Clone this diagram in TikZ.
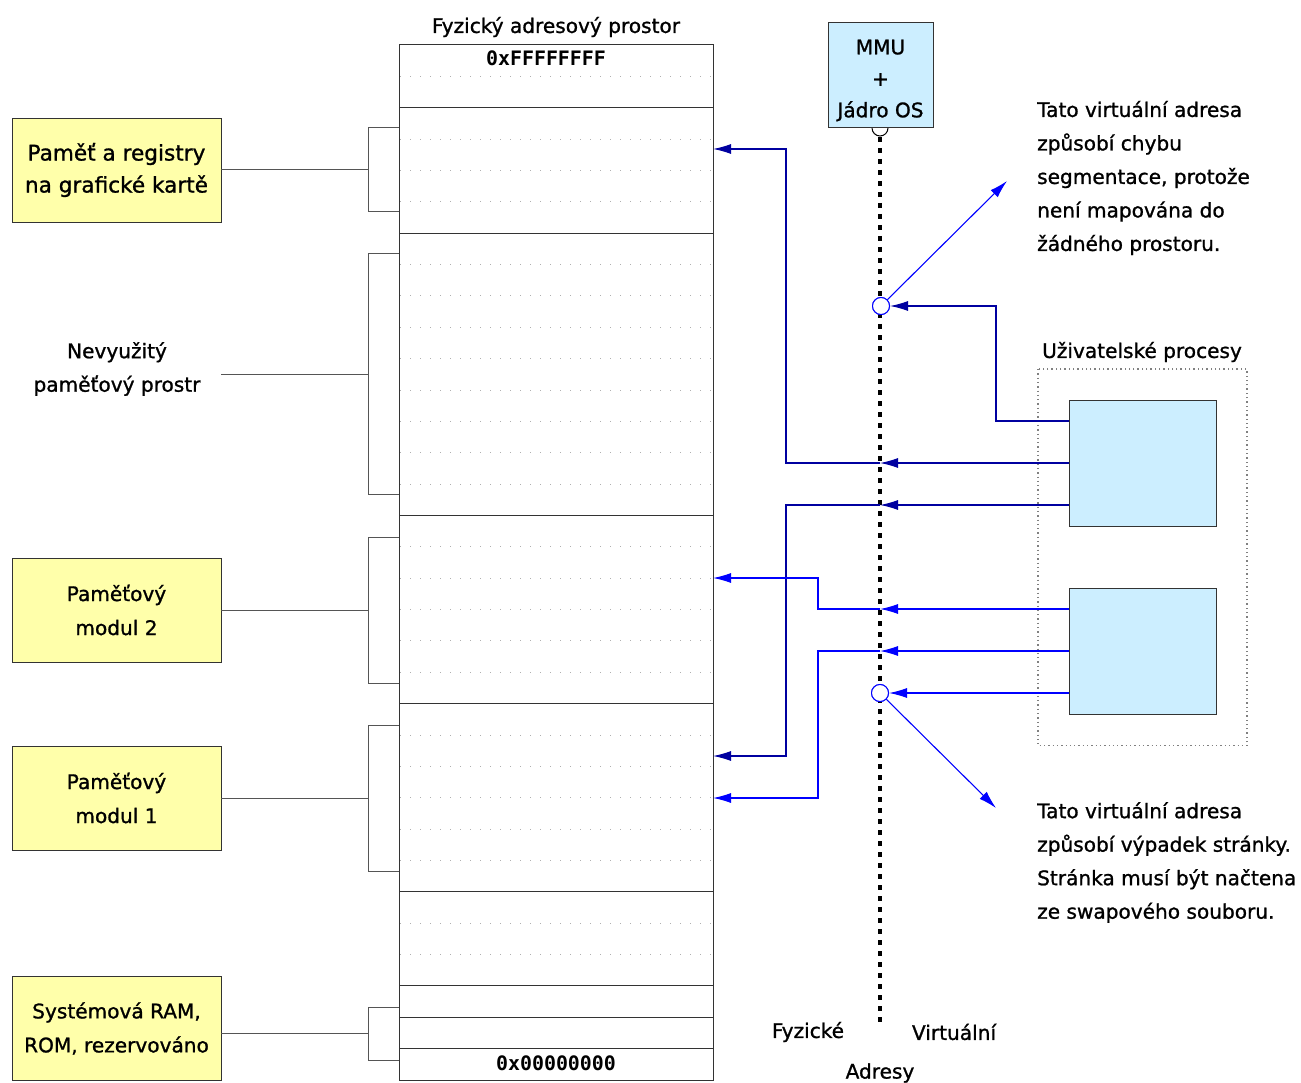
\documentclass[tikz,border=0pt]{standalone}
\usepackage{fontspec}
\setmainfont{DejaVu Sans}[FakeBold=1.1]
\setmonofont{DejaVu Sans Mono}
\usetikzlibrary{arrows.meta,calc}
\definecolor{ylw}{HTML}{FFFFAA}
\definecolor{lblue}{HTML}{CCEEFF}
\definecolor{navyb}{HTML}{0000A0}
\definecolor{brb}{HTML}{0000FF}
\definecolor{memline}{HTML}{333333}
\definecolor{brk}{HTML}{555555}
\definecolor{gridc}{HTML}{B0B0B0}
\begin{document}
\begin{tikzpicture}[x=1pt,y=-1pt,
  txt/.style={font=\fontsize{20.1}{33.5}\selectfont, inner sep=0pt},
  ybox/.style={draw=memline, fill=ylw, minimum width=209pt, minimum height=104pt,
    align=center, font=\fontsize{20.1}{34}\selectfont, inner sep=0pt},
  pbox/.style={draw=memline, fill=lblue, minimum width=146.7pt, minimum height=125.6pt, inner sep=0pt},
  hexlbl/.style={font=\ttfamily\bfseries\fontsize{19.9}{24}\selectfont, inner sep=0pt},
  memsep/.style={draw=memline, line width=1pt},
  gridln/.style={draw=gridc, line width=1pt, dash pattern=on 1pt off 9pt},
  brack/.style={draw=brk, line width=1pt},
  navyarrow/.style={draw=navyb, line width=1.1pt, -{Latex[length=18pt,width=10pt]}},
  bluearrow/.style={draw=brb, line width=1.1pt, -{Latex[length=18pt,width=10pt]}},
  vcirc/.style={circle, draw=brb, fill=white, line width=1pt, minimum size=17pt, inner sep=0pt},
]
\useasboundingbox (0,0) rectangle (1301,1083);

% ---------- memory column ----------
\node[draw=memline, line width=1pt, minimum width=314pt, minimum height=1035pt, inner sep=0pt] (mem) at (556,562.5) {};
\foreach \k in {1,3,4,5,7,8,9,10,11,12,13,14,16,17,18,19,20,22,23,24,25,26,28,29}
  \draw[gridln] (400,{45+\k*31.3636}) -- (712,{45+\k*31.3636});
\foreach \k in {2,6,15,21,27,30,31,32}
  \draw[memsep] (399,{45+\k*31.3636}) -- (713,{45+\k*31.3636});

\node[txt] (title) at (556,27) {Fyzický adresový prostor};
\node[hexlbl] (hexhi) at (546,58) {0xFFFFFFFF};
\node[hexlbl] (hexlo) at (556,1063) {0x00000000};

% ---------- brackets ----------
\coordinate (br1) at (368,170);
\coordinate (br2) at (368,374);
\coordinate (br3) at (368,610);
\coordinate (br4) at (368,798);
\coordinate (br5) at (368,1033);
\draw[brack] (399,128) -- (368,128) -- (368,212) -- (399,212);
\draw[brack] (399,254) -- (368,254) -- (368,494) -- (399,494);
\draw[brack] (399,537) -- (368,537) -- (368,683) -- (399,683);
\draw[brack] (399,725) -- (368,725) -- (368,871) -- (399,871);
\draw[brack] (399,1007) -- (368,1007) -- (368,1060) -- (399,1060);

% ---------- left labels ----------
\node[ybox, font=\fontsize{21.6}{32}\selectfont] (gpu) at (116.5,170) {Paměť a registry\\na grafické kartě};
\node[txt, align=center] (unused) at (117,369) {Nevyužitý\\paměťový prostr};
\coordinate (unusedr) at (221,374);
\node[ybox] (mod2) at (116.5,610) {Paměťový\\modul 2};
\node[ybox] (mod1) at (116.5,798) {Paměťový\\modul 1};
\node[ybox] (sysram) at (116.5,1028.5) {Systémová RAM,\\ROM, rezervováno};

\draw[brack] (gpu.east) -- (br1);
\draw[brack] (unusedr) -- (br2);
\draw[brack] (mod2.east) -- (br3);
\draw[brack] (mod1.east) -- (br4);
\draw[brack] (sysram.east |- br5) -- (br5);

% ---------- MMU ----------
\node[circle, draw=black, fill=white, line width=1pt, minimum size=16pt, inner sep=0pt] (mmuc) at (880,128) {};
\node[draw=memline, fill=lblue, line width=1pt, minimum width=105pt, minimum height=105pt, inner sep=0pt] (mmu) at (880.5,75.5) {};
\node[txt, align=center, font=\fontsize{20.1}{31.5}\selectfont] (mmutxt) at (880.5,80.5) {MMU\\+\\Jádro OS};
\coordinate (mmutop) at (880,137);
\coordinate (mmubot) at (880,1026);
\draw[line width=4pt, dash pattern=on 5pt off 6pt] (mmutop) -- (mmubot);

% ---------- processes ----------
\draw[draw=gray, line width=1.3pt, dash pattern=on 1.3pt off 3pt] (1038,369) rectangle (1247,745.7);
\node[txt] (proctitle) at (1142,352) {Uživatelské procesy};
\node[pbox] (p1) at (1142.4,463) {};
\node[pbox] (p2) at (1142.4,651.3) {};

% ---------- circles ----------
\node[vcirc] (c1) at (881,306) {};
\node[vcirc] (c2) at (880,693) {};

% ---------- coordinates ----------
\coordinate (ma1) at (713,149);
\coordinate (ma2) at (713,578);
\coordinate (ma3) at (713,756);
\coordinate (ma4) at (713,798);
\coordinate (v463) at (880,463);
\coordinate (v505) at (880,505);
\coordinate (v609) at (880,609);
\coordinate (v651) at (880,651);
\coordinate (t1) at (1007,181);
\coordinate (t2) at (996,808);

% ---------- connectors ----------
\draw[navyarrow] (p1.west |- 0,421) -- (996,421) -- (996,306) -- (c1.east);
\draw[navyarrow] (p1.west |- 0,463) -- (v463);
\draw[navyarrow] (v463) -- (786,463) -- (786,149) -- (ma1);
\draw[navyarrow] (p1.west |- 0,505) -- (v505);
\draw[navyarrow] (v505) -- (786,505) -- (786,756) -- (ma3);
\draw[bluearrow] (p2.west |- 0,609) -- (v609);
\draw[bluearrow] (v609) -- (818,609) -- (818,578) -- (ma2);
\draw[bluearrow] (p2.west |- 0,651) -- (v651);
\draw[bluearrow] (v651) -- (818,651) -- (818,798) -- (ma4);
\draw[bluearrow] (p2.west |- 0,693) -- (c2.east);
\draw[bluearrow] (c1) -- (t1);
\draw[bluearrow] (c2) -- (t2);
\node[vcirc] at (c1) {};
\node[vcirc] at (c2) {};

% ---------- right texts ----------
\node[txt, align=left, anchor=west] (segf) at (1037,178) {Tato virtuální adresa\\způsobí chybu\\segmentace, protože\\není mapována do\\žádného prostoru.};
\node[txt, align=left, anchor=west] (pagef) at (1037,862.5) {Tato virtuální adresa\\způsobí výpadek stránky.\\Stránka musí být načtena\\ze swapového souboru.};

% ---------- bottom labels ----------
\node[txt] (fyz) at (808,1032) {Fyzické};
\node[txt] (virt) at (954,1032) {Virtuální};
\node[txt] (adr) at (880,1073) {Adresy};
\end{tikzpicture}
\end{document}
